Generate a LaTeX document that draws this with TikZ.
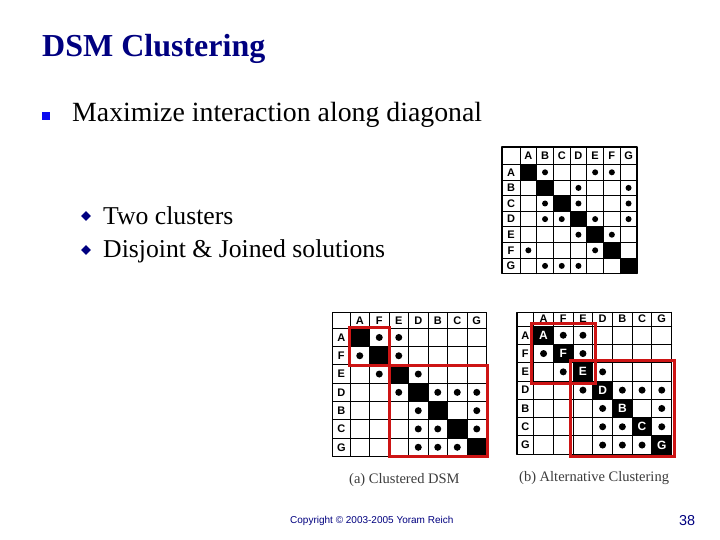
\documentclass[tikz,border=0pt]{standalone}
\usepackage{fontspec}
\setmainfont{Liberation Serif}
\setsansfont{Liberation Sans}
\usetikzlibrary{shapes.geometric}
\definecolor{tieude}{RGB}{0,0,128}
\definecolor{xanh}{RGB}{10,10,240}
\definecolor{do}{RGB}{205,20,20}
\definecolor{xam}{RGB}{60,60,60}
\begin{document}
\begin{tikzpicture}[x=1pt,y=-1pt,line join=round,line cap=round]
	\tikzset{nhan/.style={font=\sffamily\bfseries\fontsize{11}{11}\selectfont,inner sep=0pt},
		nhantrang/.style={font=\sffamily\bfseries\fontsize{12}{12}\selectfont,inner sep=0pt,text=white},
		luoi/.style={line width=0.9pt},
		cum/.style={draw=do,line width=3pt,line cap=butt,line join=miter},
		vanban/.style={anchor=base west,inner sep=0pt}}
	%%Khung trang
	\fill[white] (0,0) rectangle (720,540);
	\useasboundingbox (0,0) rectangle (720,540);
	%%Tieu de va cac dong chu
	\node[vanban,font=\bfseries\fontsize{32}{32}\selectfont,text=tieude] (title) at (42,57) {DSM Clustering};
	\node[fill=xanh,minimum size=8pt,inner sep=0pt] (b0) at (45.5,116) {};
	\node[vanban,font=\fontsize{27.8}{28}\selectfont] (t0) at (72,122) {Maximize interaction along diagonal};
	\node[diamond,fill=tieude,minimum size=10pt,inner sep=0pt] (b1) at (86,216) {};
	\node[vanban,font=\fontsize{25.7}{26}\selectfont] (t1) at (103,225) {Two clusters};
	\node[diamond,fill=tieude,minimum size=10pt,inner sep=0pt] (b2) at (86,250) {};
	\node[vanban,font=\fontsize{25.7}{26}\selectfont] (t2) at (103,258) {Disjoint \& Joined solutions};
	%%Ma tran DSM ban dau
	\begin{scope}[shift={(502,147)}]
		\def \hw{18}
		\def \hh{17.5}
		\def \cw{16.7}
		\def \ch{15.6}
		\foreach \i in {1,...,7}
			\fill ({\hw+(\i-1)*\cw},{\hh+(\i-1)*\ch}) rectangle ++(\cw,\ch);
		\foreach \i in {0,...,7}{
			\draw[luoi] ({\hw+\i*\cw},0)--({\hw+\i*\cw},{\hh+7*\ch});
			\draw[luoi] (0,{\hh+\i*\ch})--({\hw+7*\cw},{\hh+\i*\ch});}
		\draw[line width=1.3pt] (0,0) rectangle ({\hw+7*\cw},{\hh+7*\ch});
		\foreach \t [count=\i] in {A,B,C,D,E,F,G}{
			\node[nhan] (mc\t) at ({\hw+(\i-0.5)*\cw},{\hh/2}) {\t};
			\node[nhan] (mr\t) at ({\hw/2},{\hh+(\i-0.5)*\ch}) {\t};}
		\foreach \i/\j in {2/1,5/1,6/1,4/2,7/2,2/3,4/3,7/3,2/4,3/4,5/4,7/4,4/5,6/5,1/6,5/6,2/7,3/7,4/7}
			\fill ({\hw+(\i-0.5)*\cw},{\hh+(\j-0.5)*\ch}) circle[radius=3pt];
	\end{scope}
	%%(a) Clustered DSM
	\begin{scope}[shift={(332.7,312.7)}]
		\def \hw{17.3}
		\def \hh{15.6}
		\def \cw{19.5}
		\def \ch{18.3}
		\foreach \i in {1,...,7}
			\fill ({\hw+(\i-1)*\cw},{\hh+(\i-1)*\ch}) rectangle ++(\cw,\ch);
		\foreach \i in {0,...,7}{
			\draw[luoi] ({\hw+\i*\cw},0)--({\hw+\i*\cw},{\hh+7*\ch});
			\draw[luoi] (0,{\hh+\i*\ch})--({\hw+7*\cw},{\hh+\i*\ch});}
		\draw[line width=1.3pt] (0,0) rectangle ({\hw+7*\cw},{\hh+7*\ch});
		\foreach \t [count=\i] in {A,F,E,D,B,C,G}{
			\node[nhan] (ac\t) at ({\hw+(\i-0.5)*\cw},{\hh/2}) {\t};
			\node[nhan] (ar\t) at ({\hw/2},{\hh+(\i-0.5)*\ch}) {\t};}
		\foreach \i/\j in {2/1,3/1,1/2,3/2,2/3,4/3,3/4,5/4,6/4,7/4,4/5,7/5,4/6,5/6,7/6,4/7,5/7,6/7}
			\fill ({\hw+(\i-0.5)*\cw},{\hh+(\j-0.5)*\ch}) circle[radius=3.5pt];
		\draw[cum] ({\hw-1},{\hh-1}) rectangle ({\hw+2*\cw+0.5},{\hh+2*\ch+0.5});
		\draw[cum] ({\hw+2*\cw+0.5},{\hh+2*\ch+0.5}) rectangle ({\hw+7*\cw+0.5},{\hh+7*\ch+0.5});
		\node[vanban,font=\fontsize{14.5}{15}\selectfont,text=xam] (capa) at (16.3,170.3) {(a) Clustered DSM};
	\end{scope}
	%%(b) Alternative Clustering
	\begin{scope}[shift={(517,312.3)}]
		\def \hw{16.7}
		\def \hh{13.8}
		\def \cw{19.7}
		\def \ch{18.3}
		\foreach \i in {1,...,7}
			\fill ({\hw+(\i-1)*\cw},{\hh+(\i-1)*\ch}) rectangle ++(\cw,\ch);
		\foreach \i in {0,...,7}{
			\draw[luoi] ({\hw+\i*\cw},0)--({\hw+\i*\cw},{\hh+7*\ch});
			\draw[luoi] (0,{\hh+\i*\ch})--({\hw+7*\cw},{\hh+\i*\ch});}
		\draw[line width=1.3pt] (0,0) rectangle ({\hw+7*\cw},{\hh+7*\ch});
		\foreach \t [count=\i] in {A,F,E,D,B,C,G}{
			\node[nhan] (bc\t) at ({\hw+(\i-0.5)*\cw},{\hh/2-0.8}) {\t};
			\node[nhan] (br\t) at ({\hw/2},{\hh+(\i-0.5)*\ch}) {\t};
			\node[nhantrang] (bd\t) at ({\hw+(\i-0.5)*\cw},{\hh+(\i-0.5)*\ch}) {\t};}
		\foreach \i/\j in {2/1,3/1,1/2,3/2,2/3,4/3,3/4,5/4,6/4,7/4,4/5,7/5,4/6,5/6,7/6,4/7,5/7,6/7}
			\fill ({\hw+(\i-0.5)*\cw},{\hh+(\j-0.5)*\ch}) circle[radius=3.5pt];
		\draw[cum] ({\hw-2.5},{\hh-2.5}) rectangle ({\hw+3*\cw+2.5},{\hh+3*\ch+2.5});
		\draw[cum] ({\hw+2*\cw-2.5},{\hh+2*\ch-2.5}) rectangle ({\hw+7*\cw+2.5},{\hh+7*\ch+2.5});
		\node[vanban,font=\fontsize{14.5}{15}\selectfont,text=xam] (capb) at (2,168.7) {(b) Alternative Clustering};
	\end{scope}
	%%Chan trang
	\node[vanban,font=\sffamily\fontsize{10}{10}\selectfont,text=tieude] (copy) at (290,523) {Copyright © 2003-2005 Yoram Reich};
	\node[vanban,font=\sffamily\fontsize{14.4}{14.4}\selectfont,text=tieude] (page) at (679,525) {38};
\end{tikzpicture}
\end{document}
